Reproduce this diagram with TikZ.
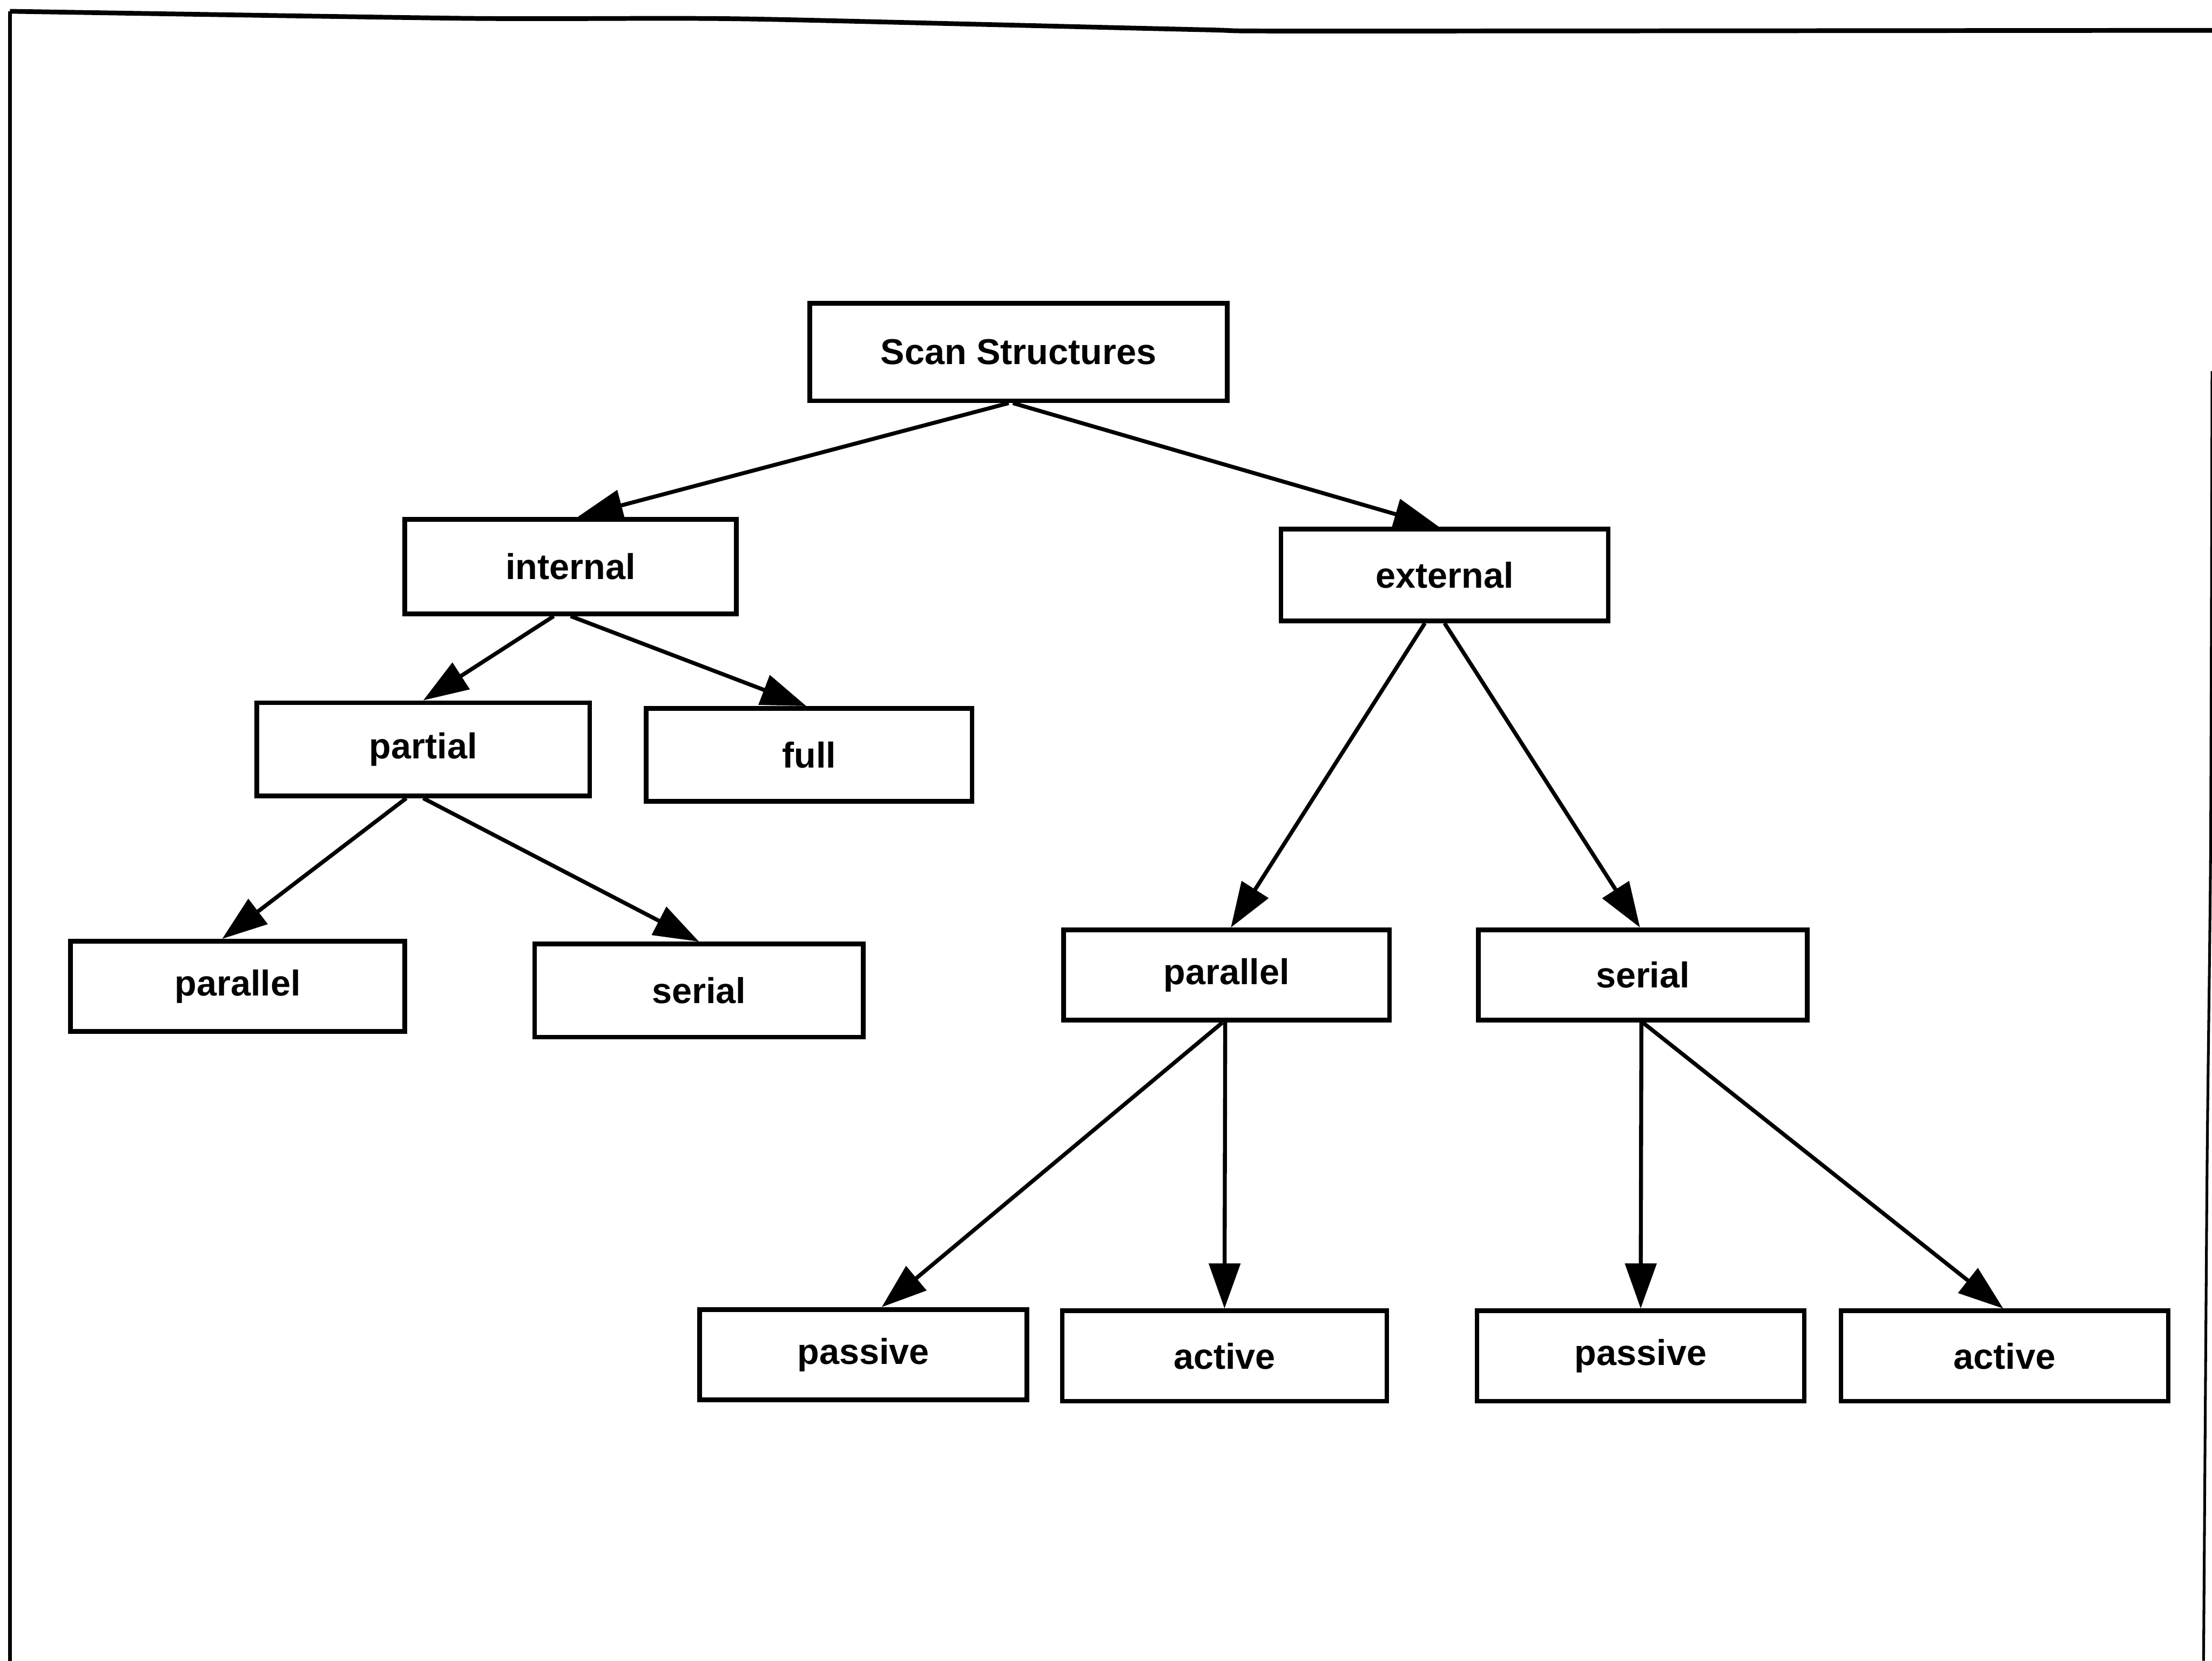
\documentclass[tikz,border=0pt]{standalone}
\usepackage{fontspec}
\setmainfont{Liberation Sans}
\usetikzlibrary{arrows.meta,calc}
\begin{document}
\begin{tikzpicture}[x=0.02cm,y=-0.02cm,
  box/.style={draw,line width=1.9pt,fill=white,inner sep=0pt,
    font=\fontsize{14.5}{17}\selectfont\bfseries},
  sz/.style 2 args={minimum width=#1*0.02cm,minimum height=#2*0.02cm},
  link/.style={line width=1.6pt,-{Triangle[length=0.64cm,width=0.44cm]}}]
\useasboundingbox (0,0) rectangle (1568,1177);

% page frame
\draw[line width=1.5pt] (7,1177) -- (7,8);
\draw[line width=1.9pt] plot[smooth,tension=0.4] coordinates
  {(7,8) (330,13) (480,13) (560,14) (850,21) (930,22) (1568,21.5)};
\draw[line width=1.1pt] plot[smooth,tension=0.4] coordinates
  {(1568,263) (1567,600) (1564.5,827) (1562,1177)};

% boxes
\node[box,sz={296}{69}] (scan) at (722,249.5) {Scan Structures};
\node[box,sz={235}{67}] (int)  at (404.5,401.5) {internal};
\node[box,sz={232}{65}] (ext)  at (1024,407.5) {external};
\node[box,sz={236}{66}] (part) at (300,531) {partial};
\node[box,sz={231}{66}] (full) at (573.5,535) {full};
\node[box,sz={237}{64}] (parL) at (168.5,699) {parallel};
\node[box,sz={233}{66}] (serL) at (495.5,702) {serial};
\node[box,sz={231}{64}] (parR) at (869.5,691) {parallel};
\node[box,sz={233}{64}] (serR) at (1164.5,691) {serial};
\node[box,sz={232}{64}] (pasA) at (612,960) {passive};
\node[box,sz={230}{64}] (actA) at (868,961) {active};
\node[box,sz={232}{64}] (pasB) at (1163,961) {passive};
\node[box,sz={232}{64}] (actB) at (1421,961) {active};

% connectors
\draw[link] ($(scan.south)+(-7,0)$) -- ($(int.north)+(5,0)$);
\draw[link] ($(scan.south)+(-4,0)$) -- ($(ext.north)+(-4,0)$);
\draw[link] ($(int.south)+(-12,0)$) -- (part.north);
\draw[link] (int.south) -- ($(full.north)+(-2,0)$);
\draw[link] ($(part.south)+(-12,0)$) -- ($(parL.north)+(-11,0)$);
\draw[link] (part.south) -- (serL.north);
\draw[link] ($(ext.south)+(-14,0)$) -- ($(parR.north)+(3,0)$);
\draw[link] (ext.south) -- ($(serR.north)+(-2,0)$);
\draw[link] ($(parR.south)+(-3,0)$) -- ($(pasA.north)+(13,0)$);
\draw[link] ($(parR.south)+(-1,0)$) -- (actA.north);
\draw[link] ($(serR.south)+(-1,0)$) -- (pasB.north);
\draw[link] (serR.south) -- ($(actB.north)+(-1,0)$);
\end{tikzpicture}
\end{document}
